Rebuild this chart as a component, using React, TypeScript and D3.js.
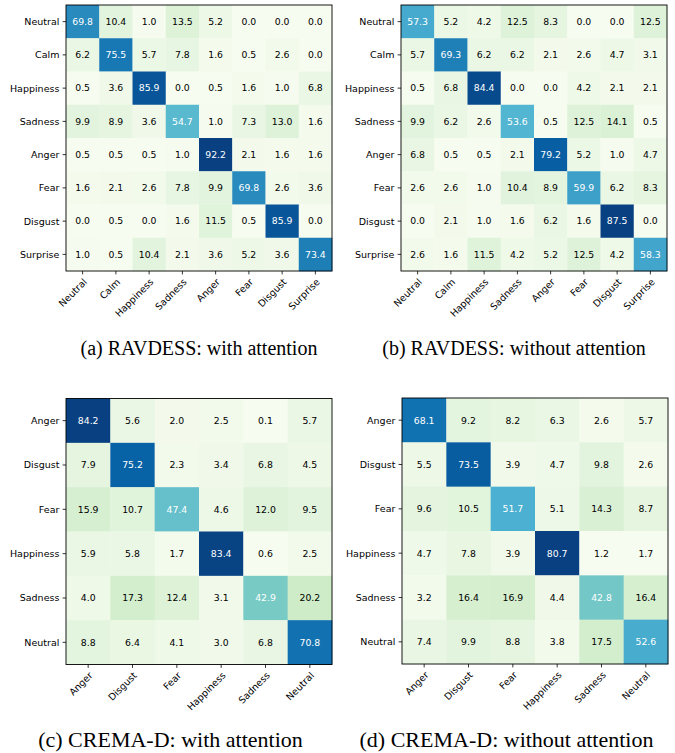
import React from "react";
import * as d3 from "d3";

const ravdessLabels = ["Neutral", "Calm", "Happiness", "Sadness", "Anger", "Fear", "Disgust", "Surprise"];
const cremaLabels = ["Anger", "Disgust", "Fear", "Happiness", "Sadness", "Neutral"];

const ravdessWith = [
  [69.8, 10.4, 1.0, 13.5, 5.2, 0.0, 0.0, 0.0],
  [6.2, 75.5, 5.7, 7.8, 1.6, 0.5, 2.6, 0.0],
  [0.5, 3.6, 85.9, 0.0, 0.5, 1.6, 1.0, 6.8],
  [9.9, 8.9, 3.6, 54.7, 1.0, 7.3, 13.0, 1.6],
  [0.5, 0.5, 0.5, 1.0, 92.2, 2.1, 1.6, 1.6],
  [1.6, 2.1, 2.6, 7.8, 9.9, 69.8, 2.6, 3.6],
  [0.0, 0.5, 0.0, 1.6, 11.5, 0.5, 85.9, 0.0],
  [1.0, 0.5, 10.4, 2.1, 3.6, 5.2, 3.6, 73.4],
];
const ravdessWithout = [
  [57.3, 5.2, 4.2, 12.5, 8.3, 0.0, 0.0, 12.5],
  [5.7, 69.3, 6.2, 6.2, 2.1, 2.6, 4.7, 3.1],
  [0.5, 6.8, 84.4, 0.0, 0.0, 4.2, 2.1, 2.1],
  [9.9, 6.2, 2.6, 53.6, 0.5, 12.5, 14.1, 0.5],
  [6.8, 0.5, 0.5, 2.1, 79.2, 5.2, 1.0, 4.7],
  [2.6, 2.6, 1.0, 10.4, 8.9, 59.9, 6.2, 8.3],
  [0.0, 2.1, 1.0, 1.6, 6.2, 1.6, 87.5, 0.0],
  [2.6, 1.6, 11.5, 4.2, 5.2, 12.5, 4.2, 58.3],
];
const cremaWith = [
  [84.2, 5.6, 2.0, 2.5, 0.1, 5.7],
  [7.9, 75.2, 2.3, 3.4, 6.8, 4.5],
  [15.9, 10.7, 47.4, 4.6, 12.0, 9.5],
  [5.9, 5.8, 1.7, 83.4, 0.6, 2.5],
  [4.0, 17.3, 12.4, 3.1, 42.9, 20.2],
  [8.8, 6.4, 4.1, 3.0, 6.8, 70.8],
];
const cremaWithout = [
  [68.1, 9.2, 8.2, 6.3, 2.6, 5.7],
  [5.5, 73.5, 3.9, 4.7, 9.8, 2.6],
  [9.6, 10.5, 51.7, 5.1, 14.3, 8.7],
  [4.7, 7.8, 3.9, 80.7, 1.2, 1.7],
  [3.2, 16.4, 16.9, 4.4, 42.8, 16.4],
  [7.4, 9.9, 8.8, 3.8, 17.5, 52.6],
];

const captions = [
  "(a) RAVDESS: with attention",
  "(b) RAVDESS: without attention",
  "(c) CREMA-D: with attention",
  "(d) CREMA-D: without attention",
];

const GNBU = ["#f7fcf0", "#e0f3db", "#ccebc5", "#a8ddb5", "#7bccc4", "#4eb3d3", "#2b8cbe", "#0868ac", "#084081"];

type PanelProps = {
  data: number[][];
  labels: string[];
  x0: number;
  y0: number;
  size: number;
  caption: string;
  capX: number;
  capY: number;
  capSize: number;
};

function Panel({ data, labels, x0, y0, size, caption, capX, capY, capSize }: PanelProps) {
  const flat = data.flat();
  const mn = d3.min(flat) as number;
  const mx = d3.max(flat) as number;
  const color = d3
    .scaleLinear<string>()
    .domain(GNBU.map((_, i) => mn + (i / (GNBU.length - 1)) * (mx - mn)))
    .range(GNBU)
    .interpolate(d3.interpolateRgb)
    .clamp(true);
  const thresh = mx / 2;
  const xs = d3.scaleBand<number>().domain(d3.range(labels.length)).range([x0, x0 + size]);
  const ys = d3.scaleBand<number>().domain(d3.range(labels.length)).range([y0, y0 + size]);
  const bw = xs.bandwidth();
  const bottom = y0 + size;
  const font = "'DejaVu Sans', sans-serif";
  return (
    <g>
      {data.map((row, i) =>
        row.map((v, j) => (
          <rect
            key={`r${i}-${j}`}
            x={xs(j)}
            y={ys(i)}
            width={bw + 0.3}
            height={ys.bandwidth() + 0.3}
            fill={color(v)}
          />
        ))
      )}
      {data.map((row, i) =>
        row.map((v, j) => (
          <text
            key={`t${i}-${j}`}
            x={(xs(j) as number) + bw / 2}
            y={(ys(i) as number) + ys.bandwidth() / 2}
            dy="0.36em"
            textAnchor="middle"
            fontFamily={font}
            fontSize={9.3}
            fill={v > thresh ? "#ffffff" : "#000000"}
          >
            {v.toFixed(1)}
          </text>
        ))
      )}
      <rect x={x0} y={y0} width={size} height={size} fill="none" stroke="#000" strokeWidth={0.9} />
      {labels.map((l, i) => {
        const cy = (ys(i) as number) + ys.bandwidth() / 2;
        return (
          <g key={`y${i}`}>
            <line x1={x0 - 3.4} x2={x0} y1={cy} y2={cy} stroke="#000" strokeWidth={0.8} />
            <text x={x0 - 6.6} y={cy} dy="0.36em" textAnchor="end" fontFamily={font} fontSize={9.5} fill="#000">
              {l}
            </text>
          </g>
        );
      })}
      {labels.map((l, j) => {
        const cx = (xs(j) as number) + bw / 2;
        return (
          <g key={`x${j}`}>
            <line x1={cx} x2={cx} y1={bottom} y2={bottom + 3.4} stroke="#000" strokeWidth={0.8} />
            <text
              transform={`translate(${cx + 5},${bottom + 11.6}) rotate(-45)`}
              textAnchor="end"
              fontFamily={font}
              fontSize={9.5}
              fill="#000"
            >
              {l}
            </text>
          </g>
        );
      })}
      <text x={capX} y={capY} textAnchor="middle" fontFamily="'Liberation Serif', 'Times New Roman', serif" fontSize={capSize} fill="#000">
        {caption}
      </text>
    </g>
  );
}

export default function App() {
  return (
    <svg
      width={675}
      height={753}
      viewBox="0 0 675 753"
      style={{ position: "absolute", left: 0, top: 0, background: "#fff" }}
    >
      <rect x={0} y={0} width={675} height={753} fill="#fff" />
      <Panel data={ravdessWith} labels={ravdessLabels} x0={66} y0={5} size={266} caption={captions[0]} capX={199} capY={355} capSize={20} />
      <Panel data={ravdessWithout} labels={ravdessLabels} x0={401} y0={5} size={266} caption={captions[1]} capX={514} capY={355} capSize={20} />
      <Panel data={cremaWith} labels={cremaLabels} x0={66} y0={398.5} size={266} caption={captions[2]} capX={170.5} capY={747} capSize={22} />
      <Panel data={cremaWithout} labels={cremaLabels} x0={402} y0={398} size={266} caption={captions[3]} capX={506.5} capY={747} capSize={22} />
    </svg>
  );
}
